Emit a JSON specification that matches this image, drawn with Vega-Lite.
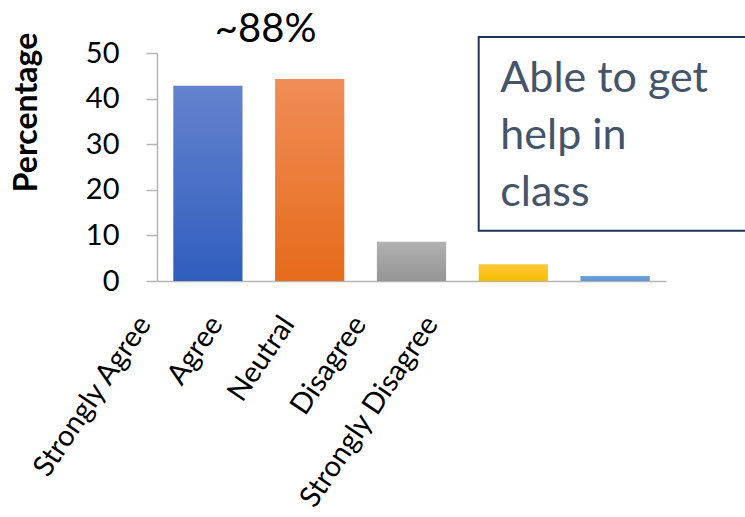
{
  "$schema": "https://vega.github.io/schema/vega-lite/v6.json",
  "autosize": {"type": "none"},
  "width": 509,
  "height": 228,
  "padding": {"left": 157, "top": 53, "right": 79, "bottom": 236},
  "background": "white",
  "config": {"view": {"stroke": null}, "font": "Lato"},
  "datasets": {
    "bars": [
      {"response": "Strongly Agree", "pct": 42.8},
      {"response": "Agree", "pct": 44.3},
      {"response": "Neutral", "pct": 8.6},
      {"response": "Disagree", "pct": 3.7},
      {"response": "Strongly Disagree", "pct": 1.1}
    ],
    "note": [{"response": "Agree", "pos": 52.4, "label": "~88%"}],
    "box": [{"x": "Disagree", "x2": "Strongly Disagree", "top": 53.5, "bottom": 11.0, "label": "Able to get\nhelp in\nclass", "ty": 41.4}]
  },
  "layer": [
    {
      "data": {"name": "bars"},
      "mark": {"type": "bar"},
      "encoding": {
        "x": {
          "field": "response", "type": "nominal", "sort": null,
          "scale": {"paddingInner": 0.32, "paddingOuter": 0.16},
          "axis": {
            "title": null, "ticks": false, "domainColor": "#b4b4b4", "domainWidth": 1.5,
            "labelAngle": -56, "labelAlign": "right", "labelBaseline": "top", "labelLimit": 0,
            "labelPadding": 30, "labelFontSize": 29, "labelColor": "#000000", "labelFont": "Lato",
            "labelOffset": {"expr": "-75 - 30*indexof(['Strongly Agree','Agree','Neutral','Disagree','Strongly Disagree'], datum.value)"}
          }
        },
        "y": {
          "field": "pct", "type": "quantitative",
          "scale": {"domain": [0, 50], "nice": false},
          "axis": {
            "title": "Percentage", "titleFontSize": 32, "titleFontWeight": "bold", "titleColor": "#000000",
            "titleX": -114, "titleY": 59, "titleAlign": "center", "titleAngle": -90, "titleBaseline": "bottom",
            "values": [0, 10, 20, 30, 40, 50], "grid": false,
            "domainColor": "#b4b4b4", "domainWidth": 1.5, "tickColor": "#b4b4b4", "tickWidth": 1.5, "tickSize": 11,
            "labelFontSize": 29, "labelColor": "#000000", "labelPadding": 27
          }
        },
        "color": {
          "condition": [
            {"test": "datum.response === 'Strongly Agree'", "value": {"gradient": "linear", "x1": 0, "y1": 0, "x2": 0, "y2": 1, "stops": [{"offset": 0, "color": "#6383cf"}, {"offset": 1, "color": "#305ebd"}]}},
            {"test": "datum.response === 'Agree'", "value": {"gradient": "linear", "x1": 0, "y1": 0, "x2": 0, "y2": 1, "stops": [{"offset": 0, "color": "#f08d57"}, {"offset": 1, "color": "#e66b1a"}]}},
            {"test": "datum.response === 'Neutral'", "value": {"gradient": "linear", "x1": 0, "y1": 0, "x2": 0, "y2": 1, "stops": [{"offset": 0, "color": "#b1b1b1"}, {"offset": 1, "color": "#959595"}]}},
            {"test": "datum.response === 'Disagree'", "value": {"gradient": "linear", "x1": 0, "y1": 0, "x2": 0, "y2": 1, "stops": [{"offset": 0, "color": "#ffc937"}, {"offset": 1, "color": "#f5bd00"}]}}
          ],
          "value": {"gradient": "linear", "x1": 0, "y1": 0, "x2": 0, "y2": 1, "stops": [{"offset": 0, "color": "#6da2dd"}, {"offset": 1, "color": "#5a96d4"}]}
        }
      }
    },
    {
      "data": {"name": "note"},
      "mark": {"type": "text", "fontSize": 40, "color": "#000000", "align": "center", "baseline": "alphabetic", "dx": -44},
      "encoding": {
        "x": {"field": "response", "type": "nominal", "sort": null},
        "y": {"field": "pos", "type": "quantitative"},
        "text": {"field": "label"}
      }
    },
    {
      "data": {"name": "box"},
      "mark": {"type": "rect", "fill": null, "fillOpacity": 0, "stroke": "#1f3457", "strokeWidth": 2, "x2Offset": 300},
      "encoding": {
        "x": {"field": "x", "type": "nominal", "sort": null, "bandPosition": 0},
        "x2": {"field": "x2", "bandPosition": 0},
        "y": {"field": "top", "type": "quantitative"},
        "y2": {"field": "bottom"}
      }
    },
    {
      "data": {"name": "box"},
      "mark": {"type": "text", "fontSize": 43, "color": "#44546a", "align": "left", "baseline": "alphabetic", "lineBreak": "\n", "lineHeight": 57, "dx": -13},
      "encoding": {
        "x": {"field": "x", "type": "nominal", "sort": null},
        "y": {"field": "ty", "type": "quantitative"},
        "text": {"field": "label"}
      }
    }
  ]
}
